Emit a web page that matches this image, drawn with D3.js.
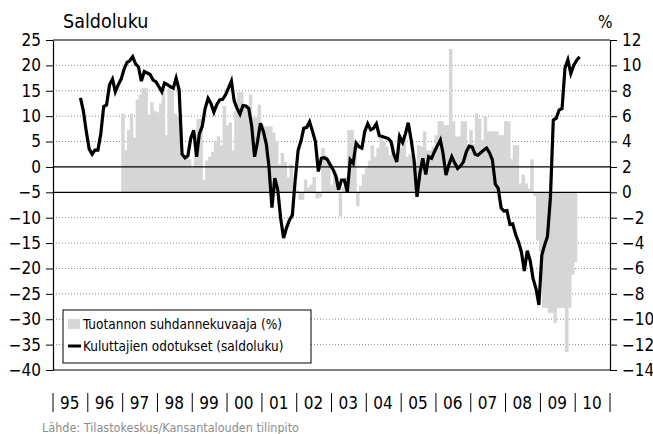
<!DOCTYPE html>
<html>
<head>
<meta charset="utf-8">
<script src="https://cdn.jsdelivr.net/npm/d3@7"></script>
<style>
  body { margin: 0; background: #fff; }
  svg text { font-family: "DejaVu Sans Condensed", "DejaVu Sans", sans-serif; fill: #000; }
</style>
</head>
<body>
<svg id="chart" width="653" height="434"></svg>
<script>
// Kuluttajien odotukset (saldoluku), monthly from Oct 1995
const lineStart = [1995, 9];
const odotukset = [
  13.6, 11.0, 7.0,
  3.5, 2.5, 3.3, 3.3, 6.5, 11.9, 12.2, 16.2, 17.3, 14.8, 16.2, 17.3,
  19.3, 20.6, 20.9, 21.7, 20.3, 19.7, 16.9, 18.8, 18.5, 18.2, 17.1, 16.8,
  15.8, 14.8, 16.5, 16.2, 15.8, 15.5, 17.5, 15.2, 2.5, 1.8, 2.2, 5.6,
  7.2, 2.0, 6.5, 8.0, 11.5, 13.5, 12.5, 10.8, 12.3, 13.2, 13.3, 14.2,
  15.5, 16.9, 13.0, 11.5, 10.4, 12.1, 12.0, 11.5, 8.0, 2.0, 5.0, 8.6,
  7.0, 4.5, 0.0, -8.0, -2.2, -4.5, -10.0, -14.0, -12.0, -10.5, -9.5, -2.6,
  3.3, 5.2, 7.6, 7.8, 8.9, 7.0, 5.0, -0.9, 1.7, 1.8, 1.5, 0.5,
  -0.5, -1.8, -4.5, -2.6, -2.6, -4.9, 1.4, 0.7, 4.7, 4.0, 3.7, 7.0,
  8.5, 7.3, 7.6, 8.5, 6.2, 6.0, 5.8, 5.6, 5.0, 2.5, 1.0, 6.0,
  4.8, 6.6, 8.7, 5.3, 1.4, -5.9, -1.3, 1.7, -1.5, 2.0, 1.7, 3.0,
  4.2, 5.3, 2.7, -1.6, 0.4, 2.0, 0.8, -0.3, 0.2, 1.0, 3.0, 4.1,
  3.9, 2.5, 2.3, 2.8, 3.3, 3.7, 2.8, 1.4, -3.4, -4.2, -8.1, -8.7,
  -8.6, -11.3, -11.2, -13.3, -14.8, -16.8, -20.5, -16.5, -18.5, -22.0, -24.0, -27.2,
  -17.3, -15.3, -13.7, -6.0, 9.2, 9.6, 11.2, 11.5, 19.5, 21.1, 18.4, 20.0,
  21.0, 21.7
];

// Tuotannon suhdannekuvaaja (%), monthly from Jan 1997
const barStart = [1997, 0];
const suhdanne = [
  6.2, 3.3, 4.9, 6.2, 4.3, 7.3, 7.7, 8.2, 8.2, 6.1, 7.1, 6.4,
  6.3, 7.0, 7.8, 4.5, 8.2, 8.0, 6.2, 6.0, 3.1, 2.6, 2.8, 2.6,
  1.9, 4.5, 5.8, 5.8, 1.0, 2.5, 2.8, 3.2, 4.0, 4.4, 3.7, 6.8,
  5.3, 5.5, 3.3, 6.4, 7.9, 7.9, 6.7, 6.9, 7.7, 5.9, 5.9, 6.9,
  5.4, 5.2, 5.2, 5.2, 4.7, 4.0, 2.2, 3.1, 2.4, 1.2, 2.2, 0.1,
  0.2, -0.6, -0.6, 1.0, 0.4, 0.6, 1.2, -0.5, -0.4, 3.5, 2.9, 2.3,
  0.6, 1.8, 1.2, -1.9, 0.4, 1.2, 4.9, 4.9, 3.2, -1.1, 0.5, 1.4,
  1.9, 2.5, 3.7, 2.8, 3.5, 4.4, 4.0, 3.6, 2.9, 3.9, 3.1, 4.5,
  3.5, 4.5, 2.8, 3.0, 2.8, 2.4, 3.7, 3.6, 4.8, 3.3, 3.3, 3.6,
  4.5, 5.6, 5.6, 5.3, 5.3, 11.3, 5.6, 4.4, 4.4, 5.6, 5.6, 3.7,
  4.9, 3.8, 6.2, 5.8, 4.1, 6.0, 4.8, 4.8, 4.8, 4.8, 4.5, 4.5,
  5.6, 5.6, 2.6, 3.7, 3.7, 0.7, 1.4, 0.7, 0.3, 2.6, -0.3, -3.8,
  -4.7, -9.1, -9.1, -9.5, -9.5, -10.3, -9.1, -9.1, -9.1, -12.6, -9.1, -6.5,
  -5.5
];

const leftTicks = d3.range(25, -41, -5);
const rightTicks = d3.range(12, -15, -2);
const years = d3.range(1995, 2011);
const yearLabels = ["95", "96", "97", "98", "99", "00", "01", "02", "03", "04", "05", "06", "07", "08", "09", "10"];
const legendLabels = ["Tuotannon suhdannekuvaaja (%)", "Kuluttajien odotukset (saldoluku)"];

const svg = d3.select("#chart");
const plotL = 53, plotR = 610, plotT = 40, plotB = 370;

const x = d3.scaleTime()
  .domain([new Date(1995, 0, 1), new Date(2011, 0, 1)])
  .range([plotL, plotR]);
const yL = d3.scaleLinear().domain([-40, 25]).range([plotB, plotT]);
const yR = d3.scaleLinear().domain([-14, 12]).range([plotB, plotT]);

// dotted grid
svg.append("g")
  .selectAll("line")
  .data(leftTicks.filter(d => d < 25 && d > -40 && d !== 0 && d !== -5))
  .enter().append("line")
  .attr("x1", plotL).attr("x2", plotR)
  .attr("y1", d => yL(d)).attr("y2", d => yL(d))
  .attr("stroke", "#8a8a8a")
  .attr("stroke-width", 1)
  .attr("stroke-dasharray", "1,2");

// bars
const barData = suhdanne.map((v, j) => {
  const d0 = new Date(barStart[0], barStart[1] + j, 1);
  const d1 = new Date(barStart[0], barStart[1] + j + 1, 1);
  return { v: v, d0: d0, d1: d1 };
});
svg.append("g")
  .selectAll("rect")
  .data(barData)
  .enter().append("rect")
  .attr("x", d => x(d.d0) - (x(d.d1) - x(d.d0)) / 2)
  .attr("width", d => x(d.d1) - x(d.d0) + 0.6)
  .attr("y", d => Math.min(yR(d.v), yR(0)))
  .attr("height", d => Math.abs(yR(d.v) - yR(0)))
  .attr("fill", "#d6d6d6");

// zero lines
svg.append("g")
  .selectAll("line")
  .data([yL(0), yR(0)])
  .enter().append("line")
  .attr("x1", plotL).attr("x2", plotR)
  .attr("y1", d => d).attr("y2", d => d)
  .attr("stroke", "#000")
  .attr("stroke-width", 1.2);

// frame top / bottom
svg.append("line").attr("x1", plotL).attr("x2", plotR).attr("y1", plotT).attr("y2", plotT)
  .attr("stroke", "#000").attr("stroke-width", 1.2);
svg.append("line").attr("x1", plotL).attr("x2", plotR).attr("y1", plotB).attr("y2", plotB)
  .attr("stroke", "#000").attr("stroke-width", 1.2);

// line
const lineData = odotukset.map((v, k) => ({ v: v, d: new Date(lineStart[0], lineStart[1] + k, 16) }));
svg.append("path")
  .datum(lineData)
  .attr("fill", "none")
  .attr("stroke", "#000")
  .attr("stroke-width", 3.2)
  .attr("stroke-linejoin", "miter")
  .attr("d", d3.line().x(d => x(d.d)).y(d => yL(d.v)));

// axes
const axL = svg.append("g")
  .attr("transform", `translate(${plotL},0)`)
  .call(d3.axisLeft(yL).tickValues(leftTicks).tickSize(7).tickSizeOuter(0).tickPadding(5)
    .tickFormat(d3.format("d")));
const axR = svg.append("g")
  .attr("transform", `translate(${plotR},0)`)
  .call(d3.axisRight(yR).tickValues(rightTicks).tickSize(7).tickSizeOuter(0).tickPadding(5)
    .tickFormat(d3.format("d")));
[axL, axR].forEach(ax => {
  ax.select(".domain").attr("stroke", "#000").attr("stroke-width", 1.2);
  ax.selectAll(".tick line").attr("stroke", "#000");
  ax.selectAll(".tick text").style("font-size", "17px").attr("fill", "#000")
    .style("font-family", "'DejaVu Sans Condensed', sans-serif");
});

// titles
svg.append("text").attr("x", 63).attr("y", 28).style("font-size", "19.5px").text("Saldoluku");
svg.append("text").attr("x", 598).attr("y", 28).style("font-size", "17px").text("%");

// year labels
const xa = svg.append("g");
xa.selectAll("line")
  .data(years.concat([2011]))
  .enter().append("line")
  .attr("x1", d => x(new Date(d, 0, 1))).attr("x2", d => x(new Date(d, 0, 1)))
  .attr("y1", 393).attr("y2", 412)
  .attr("stroke", "#000").attr("stroke-width", 1);
xa.selectAll("text")
  .data(years)
  .enter().append("text")
  .attr("x", d => x(new Date(d, 0, 1)) + 7)
  .attr("y", 409)
  .style("font-size", "17px")
  .text((d, i) => yearLabels[i]);

// legend
const lg = svg.append("g");
lg.append("rect").attr("x", 63).attr("y", 310).attr("width", 248).attr("height", 53)
  .attr("fill", "#fff").attr("stroke", "#000").attr("stroke-width", 1);
lg.append("rect").attr("x", 68).attr("y", 319).attr("width", 12).attr("height", 10).attr("fill", "#d6d6d6");
lg.append("line").attr("x1", 68).attr("x2", 81).attr("y1", 346).attr("y2", 346)
  .attr("stroke", "#000").attr("stroke-width", 3);
lg.selectAll("text.lg")
  .data(legendLabels)
  .enter().append("text")
  .attr("class", "lg")
  .attr("x", 83)
  .attr("y", (d, i) => 329 + i * 22)
  .style("font-size", "13.5px")
  .text(d => d);

// source
svg.append("text").attr("x", 42).attr("y", 432).style("font-size", "12.5px")
  .style("fill", "#8c8c8c")
  .text("Lähde: Tilastokeskus/Kansantalouden tilinpito");
</script>
</body>
</html>
